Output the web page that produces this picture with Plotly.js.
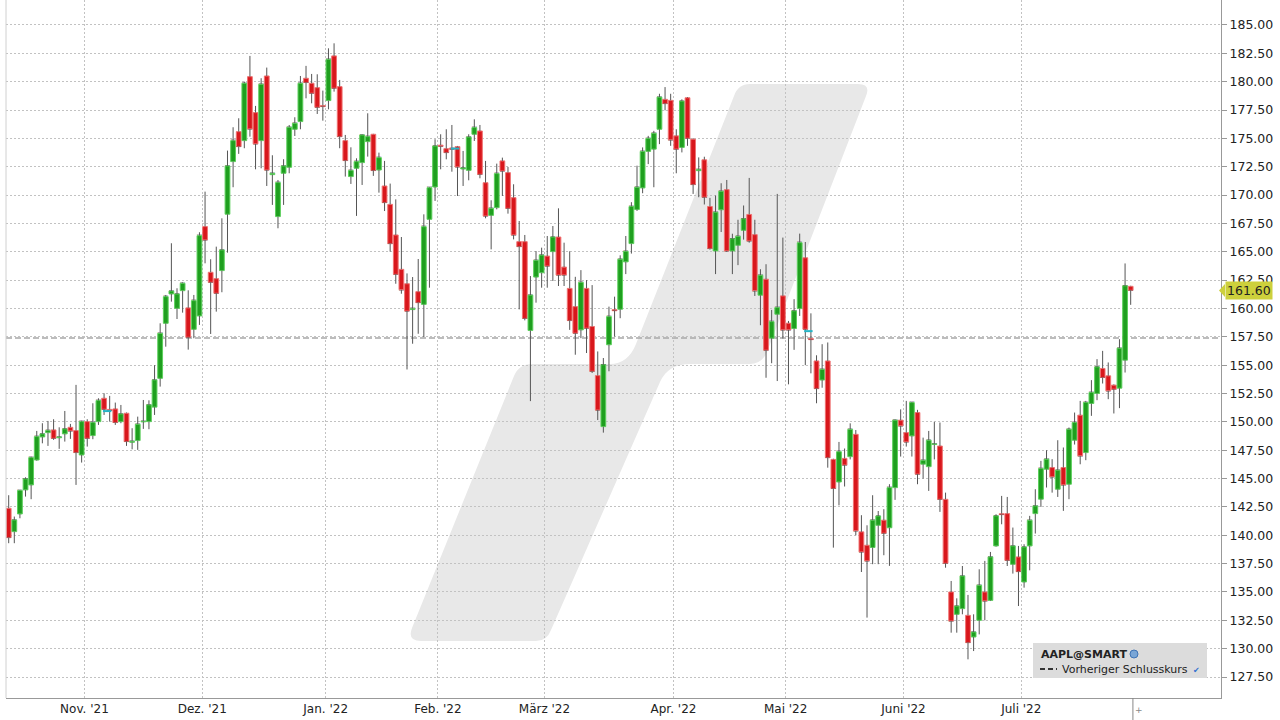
<!DOCTYPE html>
<html><head><meta charset="utf-8">
<script src="https://cdn.plot.ly/plotly-3.0.1.min.js"></script>
<style>html,body{margin:0;padding:0;background:#fff}#chart{width:1280px;height:720px}</style>
</head><body><div id="chart"></div>
<script>
// ---- data ----
const firstDay = '2021-10-12';
const lastDay = '2022-07-29';
const holidays = ['2021-11-25','2021-12-24','2022-01-17','2022-02-21','2022-04-15','2022-05-30','2022-06-20','2022-07-04'];
const monthLabels = ["Nov. '21","Dez. '21","Jan. '22","Feb. '22","März '22","Apr. '22","Mai '22","Juni '22","Juli '22"];
const yTicksStep = 2.5;
const prevClose = 157.4;
const lastPrice = 161.60;
const symbolName = 'AAPL@SMART';
const prevCloseLabel = 'Vorheriger Schlusskurs';
const divIdx = [18, 80, 143];
const divLevel = [150.95, 174.1, 158.0];

const open = [142.38,140.32,141.88,144.00,144.44,146.64,148.67,149.05,149.29,148.60,
148.94,149.52,149.23,147.08,150.02,148.79,150.02,152.08,151.10,151.14,
150.02,150.76,148.20,148.35,150.00,150.02,151.30,153.84,158.69,161.28,
160.01,161.57,160.05,158.16,159.34,167.22,163.19,162.63,163.34,168.31,
172.95,175.59,174.80,180.44,177.27,174.80,180.50,171.80,168.10,171.92,
172.45,175.80,176.48,180.30,179.86,179.47,177.90,178.33,182.27,179.56,
174.80,171.63,172.36,172.86,174.71,175.36,172.21,170.80,169.18,166.48,
163.45,162.18,159.90,161.48,160.36,167.86,170.71,174.40,174.09,174.15,
174.27,172.30,172.18,175.36,175.65,171.09,168.21,168.89,173.01,171.98,
169.77,165.89,165.89,158.06,162.77,163.15,164.62,165.01,166.30,163.65,
161.77,160.16,158.11,161.77,158.41,154.08,149.58,156.80,159.90,159.93,
164.11,165.72,168.73,170.63,173.85,174.05,175.80,178.44,178.35,175.22,
174.20,178.58,174.93,172.15,173.11,168.99,165.07,168.70,170.48,165.07,
165.57,166.89,168.29,166.51,161.17,162.58,157.38,159.49,161.11,158.70,
158.23,159.99,164.47,157.35,155.37,153.69,155.37,146.69,144.70,146.78,
146.93,148.90,140.30,139.12,138.92,140.88,141.33,140.66,144.20,150.15,
149.05,148.76,150.82,146.27,146.05,148.00,147.87,143.17,135.00,133.03,
133.53,132.94,131.03,132.50,135.00,134.26,139.06,141.90,141.91,137.44,
138.09,135.88,139.06,141.91,143.18,145.82,145.97,144.06,145.97,144.50,
148.38,150.59,147.29,151.62,152.50,154.71,154.06,153.24,152.97,155.44,
161.95];

const high = [143.53,141.65,144.00,145.11,146.94,149.20,149.88,150.08,150.23,149.52,
150.96,149.82,153.26,150.11,150.23,151.64,152.08,152.52,152.29,151.70,
151.49,150.82,149.44,150.46,151.93,151.90,155.00,158.69,161.19,165.75,
161.78,162.30,161.60,161.19,166.72,170.30,164.34,165.45,167.95,173.92,
175.98,176.77,180.00,182.27,177.86,180.30,181.24,173.51,171.33,173.16,
176.18,176.86,180.50,181.39,180.68,180.65,179.21,182.94,183.38,180.15,
175.30,174.21,173.24,175.35,177.21,175.40,173.74,173.01,171.01,169.62,
166.30,163.09,162.77,164.36,168.30,170.70,174.92,175.36,175.80,176.18,
174.33,173.89,175.36,176.68,176.18,173.01,169.54,172.77,173.30,172.48,
170.95,167.71,166.48,162.86,165.06,165.36,166.39,167.27,168.83,165.80,
165.04,162.79,163.38,162.50,162.06,156.21,155.63,160.16,161.04,164.69,
166.39,169.37,172.59,174.20,175.22,175.66,178.93,179.52,178.93,175.80,
178.44,178.64,175.00,173.32,173.38,169.75,169.96,171.04,171.33,166.59,
167.82,169.08,171.51,167.82,163.46,163.90,159.87,170.10,166.25,158.90,
160.82,166.60,165.86,159.57,155.87,156.85,157.00,146.75,148.23,147.65,
149.87,149.28,141.77,140.88,143.53,142.14,142.30,144.50,150.20,151.10,
151.85,151.76,151.06,148.61,149.20,150.00,149.94,143.76,135.97,134.44,
137.29,134.74,133.03,137.00,137.74,138.53,141.85,143.47,143.38,140.68,
139.06,139.21,141.71,144.06,146.56,147.50,146.71,148.38,147.74,149.50,
150.82,151.85,151.85,153.68,155.53,156.26,155.24,153.30,157.29,163.97,
162.00];

const low = [139.30,139.30,141.50,143.41,143.18,146.58,148.11,147.88,148.41,147.62,
148.26,148.50,144.44,146.41,147.82,148.47,149.73,150.61,150.02,149.73,
149.88,147.88,147.58,147.53,149.38,149.35,150.61,153.11,156.63,160.60,
159.07,159.63,156.37,157.37,158.55,163.98,157.75,159.72,161.43,164.92,
170.69,173.63,174.13,175.15,172.27,172.36,170.80,169.13,167.07,169.13,
171.92,175.21,175.80,178.53,178.09,177.15,176.56,177.56,179.12,174.13,
171.63,170.98,168.16,170.89,173.39,171.69,170.21,168.59,165.01,162.18,
161.30,154.62,156.89,157.77,157.48,161.83,169.48,172.27,173.15,172.06,
169.92,170.80,171.30,174.77,171.48,167.95,165.21,168.74,169.92,168.36,
166.09,159.92,158.95,151.83,160.51,161.83,161.83,162.42,161.98,161.98,
158.11,155.92,157.38,156.07,154.31,150.16,149.05,154.46,157.53,159.14,
163.03,164.84,168.60,170.16,172.73,170.69,174.49,177.47,174.34,171.92,
173.76,174.34,170.10,169.81,169.17,165.19,163.03,166.74,165.00,163.03,
163.82,166.07,165.80,161.10,158.52,153.89,155.17,153.60,157.35,153.31,
156.35,159.34,155.00,154.28,151.64,153.01,145.96,138.91,142.64,144.30,
146.69,140.00,136.76,132.74,137.45,137.45,138.24,137.30,143.12,146.94,
147.82,146.94,144.50,145.00,143.91,146.69,142.06,137.14,131.41,131.41,
133.03,129.06,129.79,131.26,132.50,134.20,139.00,140.97,137.29,136.62,
133.76,135.38,136.91,140.15,142.50,144.21,143.76,143.38,142.15,143.18,
148.00,146.26,146.62,150.53,151.91,153.38,152.00,150.74,151.21,154.35,
160.32];

const close = [139.79,141.35,143.95,144.97,146.85,148.70,148.94,149.23,148.55,148.67,
149.38,149.20,147.29,150.02,148.55,149.94,151.88,151.11,151.00,149.94,
150.70,148.26,148.29,149.79,150.05,151.50,153.70,157.81,161.04,161.54,
161.28,162.22,157.46,160.69,166.42,166.04,162.31,161.34,165.16,172.57,
174.80,174.27,179.86,175.83,174.51,179.77,172.21,171.92,171.10,172.57,
175.98,176.33,179.86,179.92,178.98,177.74,177.80,181.97,179.42,175.15,
173.04,172.16,172.95,175.30,175.15,172.16,173.30,169.33,165.71,163.01,
161.65,159.77,159.98,160.51,167.21,170.65,174.33,174.30,173.74,174.05,
172.48,172.40,175.12,175.95,171.83,168.15,168.83,171.89,172.12,168.83,
166.48,165.45,159.12,161.18,164.24,164.71,163.74,166.30,162.95,162.95,
158.93,157.82,162.30,158.26,154.46,151.04,155.04,159.28,159.80,164.34,
165.04,168.99,170.69,173.85,174.99,175.45,178.64,178.06,174.87,174.05,
178.29,175.01,170.92,172.25,169.81,165.28,168.49,170.34,165.07,166.15,
166.36,167.91,165.95,161.56,162.93,156.32,158.84,160.08,158.11,158.11,
159.79,165.80,158.17,157.25,152.93,154.63,146.84,144.12,147.37,146.19,
149.34,140.39,138.53,137.74,141.33,141.70,140.18,144.20,150.15,149.65,
148.23,151.70,145.39,146.61,148.38,148.06,143.17,137.53,132.44,133.76,
136.41,130.53,131.47,135.59,134.21,138.09,141.71,141.82,137.79,139.06,
136.79,138.97,141.32,142.59,145.88,146.71,145.15,145.74,144.44,149.35,
149.94,147.00,151.71,152.59,154.85,153.91,152.74,152.88,156.50,162.00,
161.60];

// ---- trading-day categories ----
function tradingDays(start, end, hol) {
  const out = [];
  const d = new Date(start + 'T00:00:00Z');
  const e = new Date(end + 'T00:00:00Z');
  while (d <= e) {
    const s = d.toISOString().slice(0, 10);
    const wd = d.getUTCDay();
    if (wd !== 0 && wd !== 6 && hol.indexOf(s) < 0) out.push(s);
    d.setUTCDate(d.getUTCDate() + 1);
  }
  return out;
}
const dates = tradingDays(firstDay, lastDay, holidays);
const n = Math.min(dates.length, open.length);
const idx = [];
for (let i = 0; i < n; i++) idx.push(i);

const monthTickVals = [];
for (let i = 1; i < n; i++) {
  if (dates[i].slice(0, 7) !== dates[i - 1].slice(0, 7)) monthTickVals.push(i - 0.5);
}

// ---- styling ----
const FONT = 'DejaVu Sans, Verdana, sans-serif';
const UP_FILL = '#1f9f1f', UP_LINE = '#5ccf5c';
const DN_FILL = '#d8171c', DN_LINE = '#f07272';
const WICK = '#555555';
const GRID = '#c2c2c2';

// plot area in pixels
const W = 1280, H = 720, ML = 6, MR = 59, MT = 0, MB = 22;
const PW = W - ML - MR, PH = H - MT - MB;
const PX = x => (x - ML) / PW;
const PY = y => 1 - (y - MT) / PH;

// wicks (drawn outside the body only)
const wx = [], wy = [];
for (let i = 0; i < n; i++) {
  const top = Math.max(open[i], close[i]), bot = Math.min(open[i], close[i]);
  wx.push(i, i, null, i, i, null);
  wy.push(high[i], top, null, bot, low[i], null);
}
const up = idx.map(i => close[i] >= open[i]);

const traces = [
  {type: 'scatter', mode: 'lines', x: wx, y: wy, line: {color: WICK, width: 1},
   hoverinfo: 'skip', showlegend: false},
  {type: 'bar', x: idx, base: open.slice(0, n), y: idx.map(i => close[i] - open[i]),
   width: 0.85, text: dates, hoverinfo: 'text',
   marker: {color: up.map(u => u ? UP_FILL : DN_FILL),
            line: {color: up.map(u => u ? UP_LINE : DN_LINE), width: 1}},
   showlegend: false}
];
// dividend markers
const dx = [], dy = [];
divIdx.forEach((d, k) => { dx.push(d - 1.2, d + 0.3, null); dy.push(divLevel[k], divLevel[k], null); });
traces.push({type: 'scatter', mode: 'lines', x: dx, y: dy, line: {color: '#25b4c6', width: 2},
  hoverinfo: 'skip', showlegend: false});

// y range so that gridlines land where they do in the picture
const yMin = 125.65, yMax = 187.2;

// watermark path (pixel coordinates converted to paper)
function P(x, y) { return PX(x).toFixed(5) + ',' + PY(y).toFixed(5); }
const wm = 'M' + P(750,84) + ' L' + P(858,84) + ' Q' + P(871,84) + ' ' + P(866,96) +
  ' L' + P(767,352) + ' Q' + P(762,364) + ' ' + P(750,364) +
  ' L' + P(690,364) + ' Q' + P(668,364) + ' ' + P(660,382) +
  ' L' + P(551,630) + ' Q' + P(547,641) + ' ' + P(536,641) +
  ' L' + P(421,641) + ' Q' + P(407,641) + ' ' + P(412,628) +
  ' L' + P(514,376) + ' Q' + P(519,364) + ' ' + P(532,364) +
  ' L' + P(610,364) + ' Q' + P(628,364) + ' ' + P(636,344) +
  ' L' + P(734,96) + ' Q' + P(738,84) + ' ' + P(750,84) + ' Z';

const shapes = [
  {type: 'path', path: wm, xref: 'paper', yref: 'paper', fillcolor: '#e8e8e8', line: {width: 0}, layer: 'below'},
  {type: 'line', xref: 'paper', yref: 'y', x0: 0, x1: 1, y0: prevClose, y1: prevClose,
   line: {color: '#a8a8a8', width: 1.5, dash: '6px,3px'}, layer: 'between'},
  {type: 'line', xref: 'paper', yref: 'paper', x0: 0, x1: 0, y0: 0, y1: 1, line: {color: '#d0d0d0', width: 1}},
  // legend box
  {type: 'rect', xref: 'paper', yref: 'paper', x0: PX(1033), x1: PX(1207), y0: PY(678), y1: PY(643),
   fillcolor: '#dcdcdc', line: {width: 0}, layer: 'above'},
  {type: 'line', xref: 'paper', yref: 'paper', x0: PX(1040), x1: PX(1057), y0: PY(669), y1: PY(669),
   line: {color: '#333', width: 2, dash: '5px,3px'}, layer: 'above'},
  {type: 'circle', xref: 'paper', yref: 'paper', x0: PX(1130), x1: PX(1138), y0: PY(658), y1: PY(650),
   fillcolor: '#7aa6d6', line: {color: '#3f74b5', width: 1}, layer: 'above'},
  // last price pointer
  {type: 'path', xref: 'paper', yref: 'paper',
   path: 'M' + P(1219, 290.4) + ' L' + P(1225, 284) + ' L' + P(1225, 297) + ' Z',
   fillcolor: '#cdd03c', line: {width: 0}},
  // "now" marker below the axis
  {type: 'line', xref: 'x', yref: 'paper', x0: n - 1 + 0.4, x1: n - 1 + 0.4, y0: 0, y1: PY(720),
   line: {color: '#888', width: 1}}
];

const annotations = [
  {xref: 'paper', yref: 'y', x: 1, y: lastPrice, xanchor: 'left', yanchor: 'middle', xshift: 4,
   text: lastPrice.toFixed(2), showarrow: false, bgcolor: '#cdd03c', borderpad: 1,
   font: {family: FONT, size: 12.5, color: '#222'}},
  {xref: 'paper', yref: 'paper', x: PX(1039), y: PY(654), xanchor: 'left', yanchor: 'middle',
   text: '<b>' + symbolName + '</b>', showarrow: false, font: {family: FONT, size: 11, color: '#222'}},
  {xref: 'paper', yref: 'paper', x: PX(1060), y: PY(669), xanchor: 'left', yanchor: 'middle',
   text: prevCloseLabel, showarrow: false, font: {family: FONT, size: 11, color: '#222'}},
  {xref: 'paper', yref: 'paper', x: PX(1196), y: PY(670), xanchor: 'center', yanchor: 'middle',
   text: '✔', showarrow: false, font: {family: FONT, size: 8, color: '#2f6fd0'}},
  {xref: 'paper', yref: 'paper', x: PX(1139), y: PY(710), xanchor: 'center', yanchor: 'middle',
   text: '+', showarrow: false, font: {family: FONT, size: 9, color: '#888'}}
];

const layout = {
  width: W, height: H,
  margin: {l: ML, r: MR, t: MT, b: MB, pad: 0},
  paper_bgcolor: '#ffffff', plot_bgcolor: '#ffffff',
  showlegend: false, bargap: 0,
  font: {family: FONT, size: 12, color: '#222'},
  xaxis: {
    type: 'linear', range: [(ML - (ML + 2.7)) / 5.61, 216.1], autorange: false,
    tickmode: 'array', tickvals: monthTickVals, ticktext: monthLabels,
    showgrid: true, gridcolor: GRID, griddash: '2px,2px', gridwidth: 1,
    showline: true, linecolor: '#999', linewidth: 1, ticks: '', zeroline: false,
    tickfont: {family: FONT, size: 12, color: '#222'}, automargin: false, fixedrange: true
  },
  yaxis: {
    side: 'right', range: [yMin, yMax], autorange: false,
    tick0: 0, dtick: yTicksStep, tickformat: '.2f',
    showgrid: true, gridcolor: GRID, griddash: '2px,2px', gridwidth: 1,
    showline: true, linecolor: '#999', linewidth: 1, mirror: false,
    ticks: 'outside', ticklen: 5, tickcolor: '#999', zeroline: false,
    tickfont: {family: FONT, size: 12.5, color: '#222'}, automargin: false, fixedrange: true
  },
  shapes: shapes,
  annotations: annotations
};

Plotly.newPlot('chart', traces, layout, {staticPlot: true, displayModeBar: false});
</script>
</body></html>
